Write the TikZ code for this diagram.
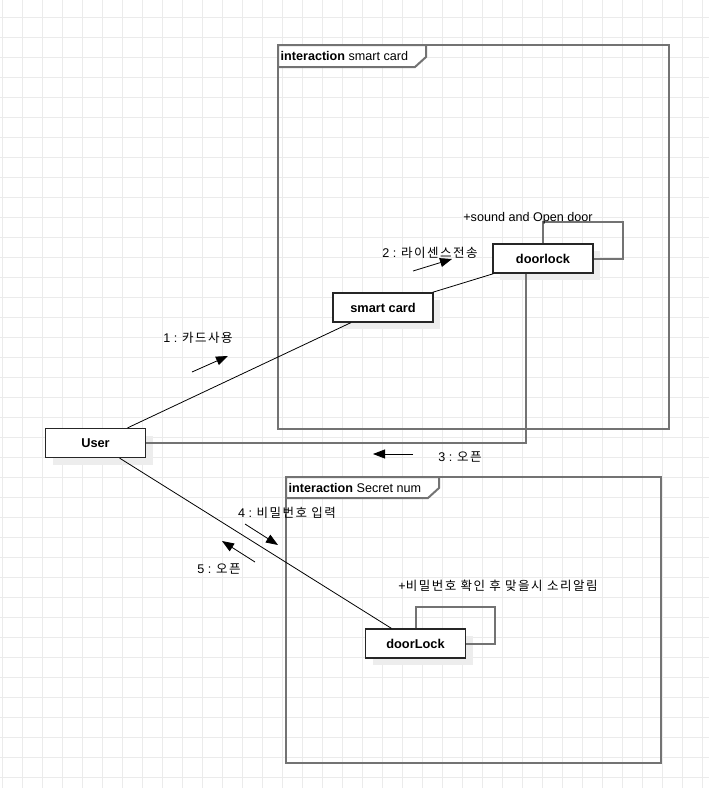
\documentclass[tikz,border=0pt]{standalone}
\usepackage{fontspec}
\setmainfont{Liberation Sans}
\newfontfamily\kr[LetterSpace=12]{Noto Sans CJK KR}
\newcommand\krt[1]{{\kr\fontsize{12.5}{14}\selectfont #1}}
\usetikzlibrary{arrows.meta,calc,shadows}
\begin{document}
\begin{tikzpicture}[x=1pt,y=-1pt,
 obj/.style={draw=black!85,line width=1.3pt,fill=white,minimum width=100pt,minimum height=29pt,inner sep=0pt,
   font=\fontsize{12.8}{14}\selectfont\bfseries,
   general shadow={fill=black!7,shadow xshift=7pt,shadow yshift=-7pt}},
 frame/.style={draw=black!55,line width=2pt},
 link/.style={draw=black,line width=0.8pt},
 glink/.style={draw=black!55,line width=2pt},
 msg/.style={draw=black,line width=0.8pt,-{Triangle[length=12pt,width=9pt]}},
 lbl/.style={font=\fontsize{12.6}{14}\selectfont,inner sep=0pt},
 gridline/.style={draw=black!8,line width=0.8pt},
]
\useasboundingbox (0,0) rectangle (709,788);
\fill[white] (0,0) rectangle (709,788);
% grid
\foreach \x in {2,22,...,702} \draw[gridline] (\x,0) -- (\x,788);
\foreach \y in {17,37,...,777} \draw[gridline] (0,\y) -- (709,\y);

% frames
\draw[frame] (278,45) rectangle (669,429);
\draw[frame,fill=white] (278,45) -- (426,45) -- (426,57) -- (415,67) -- (278,67) -- cycle;
\node[lbl,anchor=west] (f1) at (280.5,56) {\textbf{interaction} smart card};
\draw[frame] (286,477) rectangle (661,763);
\draw[frame,fill=white] (286,477) -- (439,477) -- (439,488) -- (428,498) -- (286,498) -- cycle;
\node[lbl,anchor=west] (f2) at (288.5,488) {\textbf{interaction} Secret num};

% nodes
\node[obj] (user) at (95.5,443) {User};
\node[obj] (sc) at (383,307.5) {smart card};
\node[obj] (dl) at (543,258.5) {doorlock};
\node[obj] (dL) at (415.5,643.5) {doorLock};

% connectors
\draw[link] (user) -- (sc);
\draw[link] (sc) -- (dl);
\draw[link] (user) -- (dL);
\draw[glink] (user.east) -| ([xshift=-17pt]dl.south);
\draw[glink] (dl.north) -- ++(0,-21) -| ([xshift=29pt]dl.east) -- (dl.east);
\draw[glink] (dL.north) -- ++(0,-21) -| ([xshift=29pt]dL.east) -- (dL.east);

% self labels
\node[lbl] (s1) at (528,218) {+sound and Open door};
\node[lbl] (s2) at (498,586) {+\krt{비밀번호 확인 후 맞을시 소리알림}};

% messages
\coordinate (m1a) at (192,372); \coordinate (m1b) at (228,356);
\draw[msg] (m1a) -- (m1b);
\node[lbl] (l1) at (198,338) {1 : \krt{카드사용}};
\coordinate (m2a) at (413,271); \coordinate (m2b) at (452,259);
\draw[msg] (m2a) -- (m2b);
\node[lbl] (l2) at (430,253) {2 : \krt{라이센스전송}};
\coordinate (m3a) at (413,454); \coordinate (m3b) at (373,454);
\draw[msg] (m3a) -- (m3b);
\node[lbl] (l3) at (460,457) {3 : \krt{오픈}};
\coordinate (m4a) at (245,524); \coordinate (m4b) at (278,545);
\draw[msg] (m4a) -- (m4b);
\node[lbl] (l4) at (287,513) {4 : \krt{비밀번호 입력}};
\coordinate (m5a) at (255,562); \coordinate (m5b) at (222,541);
\draw[msg] (m5a) -- (m5b);
\node[lbl] (l5) at (219,569) {5 : \krt{오픈}};
\end{tikzpicture}
\end{document}
